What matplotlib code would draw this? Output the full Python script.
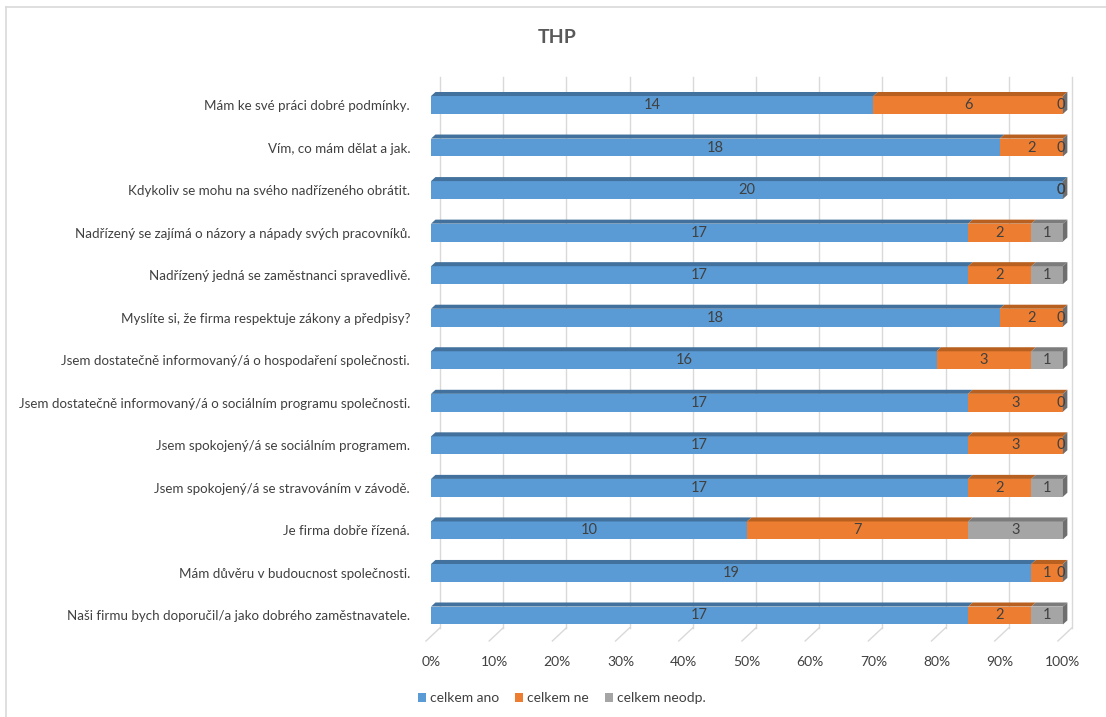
import matplotlib
matplotlib.use("Agg")
import matplotlib.pyplot as plt
from matplotlib.patches import Polygon
from matplotlib.lines import Line2D
import matplotlib.transforms as mtransforms

plt.rcParams['font.family'] = ['Lato', 'DejaVu Sans']

questions = [
    "Mám ke své práci dobré podmínky.",
    "Vím, co mám dělat a jak.",
    "Kdykoliv se mohu na svého nadřízeného obrátit.",
    "Nadřízený se zajímá o názory a nápady svých pracovníků.",
    "Nadřízený jedná se zaměstnanci spravedlivě.",
    "Myslíte si, že firma respektuje zákony a předpisy?",
    "Jsem dostatečně informovaný/á o hospodaření společnosti.",
    "Jsem dostatečně informovaný/á o sociálním programu společnosti.",
    "Jsem spokojený/á se sociálním programem.",
    "Jsem spokojený/á se stravováním v závodě.",
    "Je firma dobře řízená.",
    "Mám důvěru v budoucnost společnosti.",
    "Naši firmu bych doporučil/a jako dobrého zaměstnavatele.",
]
ano = [14, 18, 20, 17, 17, 18, 16, 17, 17, 17, 10, 19, 17]
ne = [6, 2, 0, 2, 2, 2, 3, 3, 3, 2, 7, 1, 2]
neodp = [0, 0, 0, 1, 1, 0, 1, 0, 0, 1, 3, 0, 1]

series = [("celkem ano", ano), ("celkem ne", ne), ("celkem neodp.", neodp)]
colors = ["#5b9bd5", "#ed7d31", "#a5a5a5"]
tops = ["#41719c", "#b8601f", "#7c7c7c"]
side_color = "#6e6e6e"
txt = "#404040"

fig = plt.figure(figsize=(11.06, 7.17), dpi=100)
ax = fig.add_axes([0.3783, 0.0971, 0.5942, 0.801])
ax.set_xlim(-2, 102)
ax.set_ylim(12.75, -0.75)

# fake depth: back wall shift, floor front shift, bar top face size
back_dx, front_dx = 1.42, -0.8
wall_top, floor_back, floor_front = -0.66, 12.29, 12.6
dx, dy = 0.7, 0.095
h = 0.42

for p in range(0, 101, 10):
    ax.plot([p + back_dx, p + back_dx], [wall_top, floor_back], color="#d9d9d9", lw=1, zorder=0)
    ax.plot([p + back_dx, p + front_dx], [floor_back, floor_front], color="#d9d9d9", lw=1, zorder=0)

n = len(questions)
for i in range(n):
    total = ano[i] + ne[i] + neodp[i]
    left = 0.0
    for k, (name, vals) in enumerate(series):
        w = vals[i] / total * 100
        y0 = i - h / 2
        ax.barh(i, w, left=left, height=h, color=colors[k], edgecolor="none", zorder=2,
                label=name if i == 0 else None)
        # top face
        ax.add_patch(Polygon([(left, y0), (left + w, y0), (left + w + dx, y0 - dy), (left + dx, y0 - dy)],
                             closed=True, facecolor=tops[k], edgecolor="none", zorder=2))
        ax.text(left + w / 2 if w > 0 else left - 0.4, i, str(vals[i]), ha="center", va="center",
                fontsize=10.5, color=txt, zorder=4)
        left += w
    # right side face
    ax.add_patch(Polygon([(left, i - h / 2), (left + dx, i - h / 2 - dy), (left + dx, i + h / 2 - dy), (left, i + h / 2)],
                         closed=True, facecolor=side_color, edgecolor="none", zorder=3))

ax.set_yticks(range(n))
ax.set_yticklabels(questions, fontsize=9.6, color=txt)
ax.set_xticks(range(0, 101, 10))
ax.set_xticklabels([f"{p}%" for p in range(0, 101, 10)], fontsize=10, color=txt)
shift = mtransforms.ScaledTranslation(-5 / 100, 0, fig.dpi_scale_trans)
for lab in ax.get_xticklabels():
    lab.set_transform(lab.get_transform() + shift)
ax.tick_params(axis="both", length=0)
ax.tick_params(axis="x", pad=6)
ax.tick_params(axis="y", pad=6)
for s in ax.spines.values():
    s.set_visible(False)

fig.text(0.504, 0.948, "THP", ha="center", va="center", fontsize=14, fontweight="bold", color="#595959")

ax.legend(loc="center", bbox_to_anchor=(0.508, 0.026), bbox_transform=fig.transFigure, ncol=3,
          frameon=False, fontsize=10, handlelength=0.6, handleheight=0.6, handletextpad=0.3,
          columnspacing=1.1, labelcolor=txt)

# chart frame
fig.add_artist(Line2D([6 / 1106, 6 / 1106], [0, 1 - 7 / 717], transform=fig.transFigure, color="#d9d9d9", lw=1.2))
fig.add_artist(Line2D([6 / 1106, 1], [1 - 7 / 717, 1 - 7 / 717], transform=fig.transFigure, color="#d9d9d9", lw=1.2))

fig.savefig("out.png", dpi=100)
